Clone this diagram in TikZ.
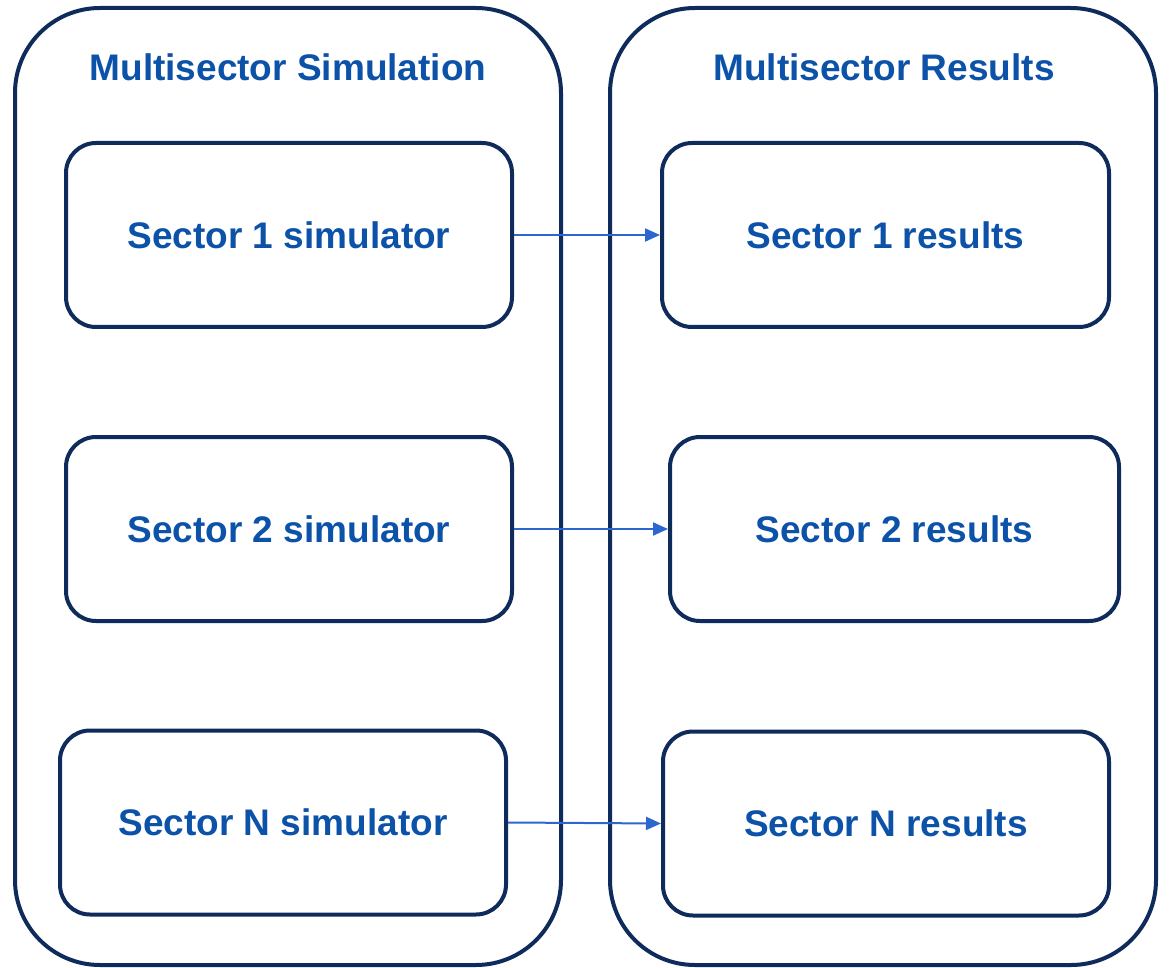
\documentclass[tikz,border=0pt]{standalone}
\usepackage{fontspec}
\setmainfont{Liberation Sans}
\usetikzlibrary{arrows.meta}
\definecolor{navy}{HTML}{0F2B5B}
\definecolor{labelblue}{HTML}{0B52A8}
\definecolor{flowblue}{HTML}{2C66CE}
\begin{document}
\begin{tikzpicture}[x=1pt,y=-1pt,
  txt/.style={font=\fontsize{37}{44}\selectfont\bfseries, text=labelblue},
  container/.style={draw=navy, line width=4pt, rounded corners=85pt,
    minimum width=546pt, minimum height=957pt, inner sep=0pt},
  sectorbox/.style={draw=navy, line width=4pt, rounded corners=30pt,
    minimum height=184pt, inner sep=0pt, txt},
  flow/.style={draw=flowblue, line width=2pt,
    -{Triangle[length=15pt,width=13pt]}}]
\useasboundingbox (0,0) rectangle (1170,968);

% two outer containers
\node[container] (sim) at (288,486.5) {};
\node[container] (res) at (883,486.5) {};
\node[txt] (simtitle) at (288,67) {Multisector Simulation};
\node[txt] (restitle) at (884,67) {Multisector Results};

% simulators
\node[sectorbox, minimum width=446pt] (s1) at (289,235) {Sector 1 simulator};
\node[sectorbox, minimum width=446pt] (s2) at (289,529) {Sector 2 simulator};
\node[sectorbox, minimum width=446pt] (sn) at (283,822.5) {Sector N simulator};

% results
\node[sectorbox, minimum width=447pt] (r1) at (885.5,235) {Sector 1 results};
\node[sectorbox, minimum width=449pt] (r2) at (894.5,529) {Sector 2 results};
\node[sectorbox, minimum width=446pt] (rn) at (886,823.5) {Sector N results};

% flows from each simulator to its results
\draw[flow] (s1.east) -- (r1.west);
\draw[flow] (s2.east) -- (r2.west);
\draw[flow] (sn.east) -- (rn.west);
\end{tikzpicture}
\end{document}
